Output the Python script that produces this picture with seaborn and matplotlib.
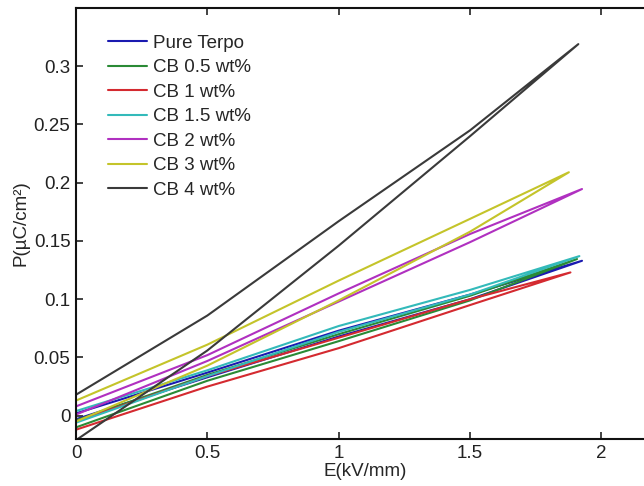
import numpy as np
import pandas as pd
import matplotlib
matplotlib.use("Agg")
import matplotlib.pyplot as plt
import seaborn as sns
from matplotlib.ticker import FuncFormatter

series = ["Pure Terpo", "CB 0.5 wt%", "CB 1 wt%", "CB 1.5 wt%", "CB 2 wt%", "CB 3 wt%", "CB 4 wt%"]
colors = ["#1a1ab0", "#2a8a35", "#d42a30", "#33baba", "#b030c0", "#c4c42a", "#3a3a3a"]

# field points (kV/mm) along each branch; last value = loop tip
E_branch = {
    "Pure Terpo": [0, 0.5, 1.0, 1.5, 1.926],
    "CB 0.5 wt%": [0, 0.5, 1.0, 1.5, 1.907],
    "CB 1 wt%":   [0, 0.5, 1.0, 1.5, 1.882],
    "CB 1.5 wt%": [0, 0.5, 1.0, 1.5, 1.916],
    "CB 2 wt%":   [0, 0.5, 1.0, 1.5, 1.926],
    "CB 3 wt%":   [0, 0.5, 1.0, 1.5, 1.876],
    "CB 4 wt%":   [0, 0.5, 1.0, 1.5, 1.912],
}
# polarization (uC/cm2) on the rising (lower) branch
P_lower = {
    "Pure Terpo": [-0.003, 0.033, 0.068, 0.100, 0.133],
    "CB 0.5 wt%": [-0.010, 0.030, 0.064, 0.099, 0.1345],
    "CB 1 wt%":   [-0.012, 0.025, 0.058, 0.095, 0.123],
    "CB 1.5 wt%": [-0.006, 0.034, 0.072, 0.104, 0.137],
    "CB 2 wt%":   [0.001, 0.047, 0.098, 0.149, 0.1946],
    "CB 3 wt%":   [-0.005, 0.043, 0.099, 0.158, 0.209],
    "CB 4 wt%":   [-0.021, 0.056, 0.146, 0.240, 0.319],
}
# polarization on the returning (upper) branch
P_upper = {
    "Pure Terpo": [0.002, 0.037, 0.073, 0.104, 0.133],
    "CB 0.5 wt%": [-0.004, 0.035, 0.070, 0.103, 0.1345],
    "CB 1 wt%":   [-0.005, 0.034, 0.067, 0.100, 0.123],
    "CB 1.5 wt%": [0.004, 0.039, 0.077, 0.108, 0.137],
    "CB 2 wt%":   [0.008, 0.052, 0.105, 0.156, 0.1946],
    "CB 3 wt%":   [0.013, 0.061, 0.116, 0.169, 0.209],
    "CB 4 wt%":   [0.018, 0.086, 0.167, 0.245, 0.319],
}

rows = []
for s in series:
    E = E_branch[s]
    path_E = list(E) + list(E[::-1][1:])
    path_P = list(P_lower[s]) + list(P_upper[s][::-1][1:])
    for i, (e, p) in enumerate(zip(path_E, path_P)):
        rows.append({"E": e, "P": p, "series": s, "order": i})
df = pd.DataFrame(rows)

sns.set_style("white")
plt.rcParams["font.family"] = ["Liberation Sans", "DejaVu Sans"]

FS = 13.5
fig = plt.figure(figsize=(6.44, 4.86), dpi=100)
ax = fig.add_axes([76 / 644, 47 / 486, 578 / 644, 431 / 486])

sns.lineplot(data=df, x="E", y="P", hue="series", hue_order=series,
             palette=dict(zip(series, colors)), sort=False, estimator=None,
             linewidth=1.5, ax=ax, legend=True)

ax.set_xlim(0, 2.2)
ax.set_ylim(-0.02, 0.35)
ax.set_xticks([0, 0.5, 1, 1.5, 2])
ax.set_yticks([0, 0.05, 0.1, 0.15, 0.2, 0.25, 0.3])
fmt = FuncFormatter(lambda v, p: f"{v:g}")
ax.xaxis.set_major_formatter(fmt)
ax.yaxis.set_major_formatter(fmt)
ax.tick_params(direction="in", length=5, width=1.2, labelsize=FS, colors="#222222",
               top=True, bottom=True, left=True, right=False, pad=4)
for sp in ax.spines.values():
    sp.set_linewidth(1.5)
    sp.set_color("#111111")
ax.set_xlabel("E(kV/mm)", fontsize=FS, labelpad=1)
ax.set_ylabel("P(\u00b5C/cm\u00b2)", fontsize=FS, labelpad=3)

leg = ax.legend(loc="upper left", bbox_to_anchor=(0.0424, 0.955), frameon=False,
                fontsize=FS, handlelength=2.1, handletextpad=0.32,
                labelspacing=0.39, borderaxespad=0)

fig.savefig("out.png", dpi=100)
